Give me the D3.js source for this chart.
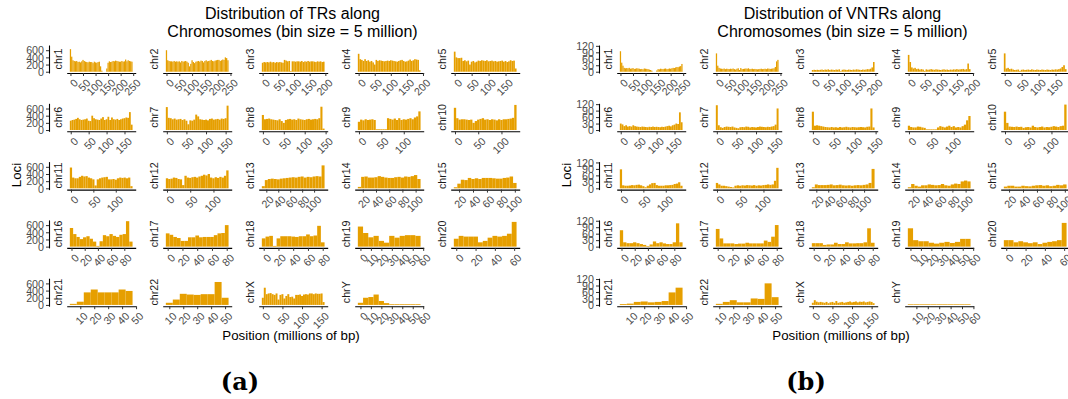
<!DOCTYPE html>
<html><head><meta charset="utf-8">
<script src="https://cdn.jsdelivr.net/npm/d3@7"></script>
<style>body{margin:0;background:#fff} svg text{font-family:"Liberation Sans",Arial,sans-serif}</style>
</head><body><svg id="c" width="1068" height="399"></svg>
<script>
// ---------------- DATA ----------------
const chromosomes = ["chr1","chr2","chr3","chr4","chr5","chr6","chr7","chr8","chr9","chr10","chr11","chr12","chr13","chr14","chr15","chr16","chr17","chr18","chr19","chr20","chr21","chr22","chrX","chrY"];
const binWidth = 5; // Mb

// first bin centre (Mb) per chromosome
const trFirstBin   = [0,0,0,0,0,0,0,0,0,0,0,0,15,15,15,0,0,0,0,0,5,10,0,0];
const vntrFirstBin = [0,0,0,0,0,0,0,0,0,0,0,0,15,15,15,0,0,0,0,0,5,10,0,5];

// x tick labels per chromosome
const trTicks = [[0,50,100,150,200,250],[0,50,100,150,200,250],[0,50,100,150,200],[0,50,100,150,200],[0,50,100,150],
  [0,50,100,150],[0,50,100,150],[0,50,100,150],[0,50,100],[0,50,100],
  [0,50,100],[0,50,100],[20,40,60,80,100],[20,40,60,80,100],[20,40,60,80,100],
  [0,20,40,60,80],[0,20,40,60,80],[0,20,40,60,80],[0,10,20,30,40,50,60],[0,20,40,60],
  [10,20,30,40,50],[10,20,30,40,50],[0,50,100,150],[0,10,20,30,40,50,60]];
const vntrTicks = [[0,50,100,150,200,250],[0,50,100,150,200,250],[0,50,100,150,200],[0,50,100,150,200],[0,50,100,150],
  [0,50,100,150],[0,50,100,150],[0,50,100,150],[0,50,100],[0,50,100],
  [0,50,100],[0,50,100],[20,40,60,80,100],[20,40,60,80,100],[20,40,60,80,100],
  [0,20,40,60,80],[0,20,40,60,80],[0,20,40,60,80],[0,10,20,30,40,50,60],[0,20,40,60],
  [10,20,30,40,50],[10,20,30,40,50],[0,50,100,150],[10,20,30,40,50,60]];
const trYTicks = [0,200,400,600];
const vntrYTicks = [0,30,60,90,120];

// TR loci per 5 Mb bin
const trChr1 = [630,420,320,300,290,300,270,280,260,290,330,300,280,270,260,280,270,270,240,280,260,250,270,280,150,30,0,0,0,90,250,290,270,280,300,290,310,300,290,280,280,300,280,290,340,290,320,300,290,280];
const trChr2 = [600,320,300,290,290,280,300,280,290,280,290,260,300,280,290,300,280,250,150,220,320,270,240,280,290,300,280,310,300,260,300,320,290,300,310,330,300,290,310,320,330,330,300,320,340,330,400,380,320];
const trChr3 = [250,270,260,270,260,280,260,270,250,270,260,270,260,250,330,310,290,300,20,290,290,280,290,290,280,300,270,290,280,300,280,290,290,280,270,290,280,290,270,280];
const trChr4 = [500,350,330,300,350,300,320,280,300,260,200,330,300,320,310,300,290,300,310,300,320,310,300,290,280,300,320,330,300,280,290,310,340,300,320,350,340,330,40];
const trChr5 = [560,400,380,380,390,300,320,290,310,200,280,300,260,280,310,300,320,310,300,320,290,300,310,290,300,280,290,300,310,280,300,270,290,320,300,310,90];
const trChr6 = [260,280,290,310,340,300,280,290,300,320,260,250,400,330,300,290,280,320,360,280,300,370,280,350,300,290,310,280,300,320,330,350,340,500,150];
const trChr7 = [640,340,330,300,320,290,300,310,280,300,260,160,270,260,290,430,380,300,290,280,290,270,310,320,290,300,310,290,320,310,330,680];
const trChr8 = [420,300,310,320,300,290,280,270,300,250,200,280,300,310,290,300,280,320,300,290,280,300,310,290,300,310,300,330,650,40];
const trChr9 = [230,290,270,300,280,290,300,280,20,20,20,20,20,330,310,290,320,280,330,280,300,290,310,330,300,350,380,520];
const trChr10 = [620,330,290,300,300,290,280,290,200,250,290,310,330,290,300,280,300,290,270,300,280,300,300,310,320,340,700];
const trChr11 = [580,300,280,280,320,350,330,340,300,280,250,80,250,280,300,310,320,250,250,260,240,280,300,290,300,280,300,60];
const trChr12 = [280,260,270,300,290,260,250,90,350,300,290,310,320,300,330,350,380,360,400,300,280,310,290,320,300,350,500];
const trChr13 = [60,230,260,270,260,250,270,280,290,300,310,300,320,330,300,320,310,330,340,330,640];
const trChr14 = [40,320,330,300,300,310,340,320,300,290,290,310,320,300,330,320,340,370,260];
const trChr15 = [30,130,240,230,290,260,280,260,290,290,290,280,270,270,290,300,330,150];
const trChr16 = [520,350,270,210,260,290,220,140,20,150,320,290,350,300,270,330,350,710,140];
const trChr17 = [370,330,270,240,160,160,260,260,310,260,270,270,270,320,370,380,600];
const trChr18 = [230,280,300,20,230,290,290,290,280,270,290,290,340,290,310,580,120];
const trChr19 = [560,380,260,300,160,110,300,250,300,320,320,300];
const trChr20 = [220,300,280,280,280,120,160,250,300,280,300,360,690];
const trChr21 = [30,90,350,430,350,350,350,430,390];
const trChr22 = [60,150,310,290,280,300,300,640,200];
const trChrX = [200,480,300,320,330,300,280,320,150,280,300,180,250,300,220,230,180,280,280,290,250,290,300,290,320,320,300,320,310,310,320,80];
const trChrY = [60,200,220,290,110,50,20,20,20,20,20,20];

// VNTR loci per 5 Mb bin
const vntrChr1 = [95,42,28,18,16,17,16,18,14,15,17,13,14,16,15,14,12,13,11,15,14,13,12,10,8,5,0,0,0,6,12,11,14,13,12,14,15,12,13,15,14,16,18,17,20,22,21,24,26,36];
const vntrChr2 = [85,28,18,15,14,13,15,12,14,13,12,14,13,15,12,10,14,16,8,17,12,13,14,15,14,16,12,13,14,12,13,12,11,12,13,14,12,13,14,12,15,14,13,14,15,16,22,48,55];
const vntrChr3 = [8,9,8,9,8,9,10,8,10,9,11,8,10,9,8,10,9,11,3,9,10,9,8,10,9,8,10,9,11,10,9,8,10,9,10,12,11,14,20,45];
const vntrChr4 = [78,45,20,15,18,12,14,10,12,10,4,11,9,10,12,10,9,11,10,9,8,10,11,9,10,8,10,9,11,10,12,10,11,12,13,10,12,38,12];
const vntrChr5 = [85,15,18,12,14,10,8,9,10,4,9,10,8,9,10,8,11,9,8,10,9,8,10,9,8,10,9,8,10,9,11,10,12,15,22,30,12];
const vntrChr6 = [30,26,18,22,16,18,16,22,18,16,15,14,16,15,14,13,15,14,16,14,15,14,13,15,14,16,18,20,17,22,25,30,28,82,36];
const vntrChr7 = [115,22,13,10,14,16,15,14,16,12,10,8,13,14,13,16,15,12,14,13,12,14,16,15,14,13,15,14,16,18,25,100];
const vntrChr8 = [85,20,22,20,18,16,14,13,12,14,12,13,11,14,12,13,15,13,12,14,13,12,13,14,13,12,15,16,100,12];
const vntrChr9 = [20,14,12,12,16,15,12,10,3,3,3,3,3,12,18,15,12,16,20,14,18,12,14,12,18,25,45,65];
const vntrChr10 = [85,33,16,15,14,16,14,15,10,13,14,12,20,14,12,14,16,12,14,13,15,18,16,14,18,20,118];
const vntrChr11 = [88,14,12,12,13,15,14,16,17,14,10,5,12,18,24,25,15,12,12,12,14,14,15,16,20,22,28,12];
const vntrChr12 = [25,18,12,12,10,8,6,4,12,14,12,14,13,15,14,13,15,12,14,13,15,16,18,16,18,35,95];
const vntrChr13 = [5,18,15,15,15,16,18,14,15,17,14,13,14,12,14,15,14,16,18,25,90];
const vntrChr14 = [5,20,12,8,14,14,18,16,14,15,20,14,12,18,22,20,32,36,32];
const vntrChr15 = [8,12,12,8,8,12,10,9,12,14,15,12,14,10,12,16,14,18];
const vntrChr16 = [76,20,16,16,20,16,12,8,3,10,24,16,20,15,12,12,20,108,20];
const vntrChr17 = [82,38,15,15,15,12,14,14,18,15,15,15,15,28,22,46,100];
const vntrChr18 = [16,16,16,8,10,10,18,12,12,20,15,15,16,16,20,85,18];
const vntrChr19 = [85,30,25,25,18,14,18,22,17,22,36,36];
const vntrChr20 = [30,30,20,25,20,16,20,12,18,22,25,30,110];
const vntrChr21 = [4,6,14,16,12,14,18,58,80];
const vntrChr22 = [5,14,22,12,12,30,28,100,36];
const vntrChrX = [10,22,15,12,14,12,10,14,8,12,14,10,18,10,12,14,10,12,14,16,12,14,16,12,15,14,16,12,14,16,14,8];
const vntrChrY = [3,3,3,3,3,3,3,3,3,3,3];

const trCounts = [trChr1,trChr2,trChr3,trChr4,trChr5,trChr6,trChr7,trChr8,trChr9,trChr10,trChr11,trChr12,trChr13,trChr14,trChr15,trChr16,trChr17,trChr18,trChr19,trChr20,trChr21,trChr22,trChrX,trChrY];
const vntrCounts = [vntrChr1,vntrChr2,vntrChr3,vntrChr4,vntrChr5,vntrChr6,vntrChr7,vntrChr8,vntrChr9,vntrChr10,vntrChr11,vntrChr12,vntrChr13,vntrChr14,vntrChr15,vntrChr16,vntrChr17,vntrChr18,vntrChr19,vntrChr20,vntrChr21,vntrChr22,vntrChrX,vntrChrY];

const trTitle = ["Distribution of TRs along","Chromosomes (bin size = 5 million)"];
const vntrTitle = ["Distribution of VNTRs along","Chromosomes (bin size = 5 million)"];
const xTitle = "Position (millions of bp)";
const yTitle = "Loci";
const subLabels = ["(a)","(b)"];

// ---------------- LAYOUT ----------------
const svg = d3.select("#c");
const colX = [66.7, 162.7, 258.7, 354.7, 450.7];
const panelW = 69;
const rowBase = [73, 131.3, 189.6, 247.9, 306.2];
const panelH = 28;
const barColor = "#E69F00";

function drawFigure(ox, counts, firstBins, ticks, yTicks, title) {
  const g = svg.append("g").attr("transform", `translate(${ox},0)`);
  const yMax = d3.max(counts.flat());
  const y = d3.scaleLinear().domain([-0.05*yMax, 1.05*yMax]).range([panelH, 0]);

  g.append("text").attr("x", 292.5).attr("y", 19).attr("text-anchor","middle")
    .attr("font-size", 16).attr("fill","#000").text(title[0]);
  g.append("text").attr("x", 292.5).attr("y", 36.5).attr("text-anchor","middle")
    .attr("font-size", 16).attr("fill","#000").text(title[1]);

  chromosomes.forEach((chr, i) => {
    const r = Math.floor(i/5), c = i % 5;
    const data = counts[i], first = firstBins[i];
    const lo = first - binWidth/2, hi = first + binWidth*data.length - binWidth/2;
    const pad = (hi - lo) * 0.05;
    const x = d3.scaleLinear().domain([lo - pad, hi + pad]).range([0, panelW]);
    const pg = g.append("g").attr("transform", `translate(${colX[c]},${rowBase[r]-panelH})`);

    pg.selectAll("rect").data(data).join("rect")
      .attr("x", (d, j) => x(first + j*binWidth - binWidth/2))
      .attr("width", (d, j) => x(first + j*binWidth + binWidth/2) - x(first + j*binWidth - binWidth/2))
      .attr("y", d => y(d))
      .attr("height", d => y(0) - y(d))
      .attr("fill", barColor);

    const xa = pg.append("g").attr("transform", `translate(0,${panelH})`)
      .call(d3.axisBottom(x).tickValues(ticks[i]).tickSize(3).tickSizeOuter(0).tickFormat(d3.format("d")));
    xa.select(".domain").attr("stroke", "#000").attr("stroke-width", 1.1);
    xa.selectAll(".tick line").attr("stroke", "#333");
    xa.selectAll(".tick text")
      .attr("x", 0).attr("y", 0).attr("dy", null)
      .attr("transform", "translate(2,5) rotate(-45)")
      .attr("text-anchor", "end").attr("dominant-baseline", "hanging")
      .attr("font-size", 10.7).attr("fill", "#4D4D4D");

    if (c === 0) {
      const ya = pg.append("g").attr("transform", `translate(-17.7,0)`)
        .call(d3.axisLeft(y).tickValues(yTicks).tickSize(3).tickSizeOuter(0));
      ya.select(".domain").attr("stroke", "#000").attr("stroke-width", 1.1);
      ya.selectAll(".tick line").attr("stroke", "#333");
      ya.selectAll(".tick text").attr("x", -5).attr("dy", "0.35em")
        .attr("font-size", 10.7).attr("fill", "#4D4D4D");
    }

    pg.append("text").attr("transform", `translate(-8.5,${panelH/2}) rotate(-90)`)
      .attr("text-anchor","middle").attr("dy","0.35em")
      .attr("font-size", 10.7).attr("fill","#1A1A1A").text(chr);
  });

  g.append("text").attr("transform", `translate(16,175) rotate(-90)`)
    .attr("text-anchor","middle").attr("dy","0.35em").attr("font-size", 13.3).text(yTitle);
  g.append("text").attr("x", 291).attr("y", 340).attr("text-anchor","middle")
    .attr("font-size", 13.3).text(xTitle);
}

drawFigure(0, trCounts, trFirstBin, trTicks, trYTicks, trTitle);
drawFigure(550, vntrCounts, vntrFirstBin, vntrTicks, vntrYTicks, vntrTitle);

[[240, subLabels[0]], [806, subLabels[1]]].forEach(([cx, lab]) => {
  svg.append("text").attr("x", cx).attr("y", 390).attr("text-anchor","middle")
    .style("font-family", "'DejaVu Serif', serif").style("font-weight", "bold")
    .style("font-size", "24px").attr("fill", "#000").text(lab);
});
</script></body></html>
